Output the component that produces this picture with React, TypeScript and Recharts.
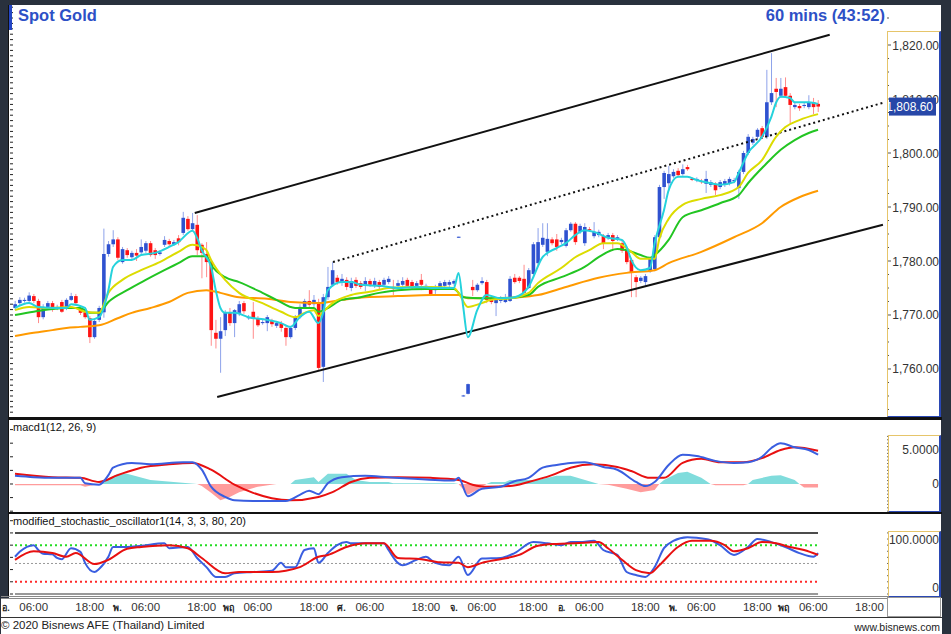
import React from 'react';
import { ComposedChart, Bar, Line, Area, XAxis, YAxis, ReferenceLine } from 'recharts';

// hourly candles, [open, high, low, close]
const candles: [number, number, number, number][] = [
  [1771.3, 1772.6, 1770.9, 1772.0], [1772.2, 1773.3, 1771.8, 1772.8], [1772.6, 1773.2, 1772.3, 1772.8],
  [1772.6, 1774.2, 1772.2, 1773.6], [1773.5, 1773.9, 1772.2, 1772.6], [1772.6, 1773.0, 1768.5, 1769.6],
  [1769.6, 1772.0, 1769.2, 1771.5], [1771.5, 1772.6, 1771.0, 1772.2], [1772.2, 1772.6, 1770.6, 1771.0],
  [1771.2, 1771.9, 1770.9, 1771.5], [1772.4, 1772.8, 1770.4, 1770.6], [1771.3, 1773.1, 1770.9, 1772.8],
  [1772.8, 1774.1, 1772.6, 1773.5], [1773.5, 1773.9, 1771.9, 1772.2], [1771.3, 1771.7, 1770.0, 1770.4],
  [1770.5, 1770.9, 1769.3, 1769.6], [1769.4, 1769.8, 1764.8, 1765.9], [1765.9, 1769.4, 1765.6, 1768.9],
  [1769.1, 1771.7, 1768.7, 1771.3], [1770.5, 1786.0, 1769.5, 1781.3], [1781.3, 1783.7, 1780.8, 1783.1],
  [1783.1, 1785.7, 1782.6, 1784.0], [1784.0, 1784.4, 1780.2, 1780.6], [1779.8, 1782.6, 1779.5, 1782.2],
  [1782.0, 1782.4, 1780.6, 1781.1], [1780.7, 1781.9, 1780.2, 1781.5], [1781.5, 1782.2, 1780.0, 1781.0],
  [1781.6, 1784.0, 1781.3, 1782.6], [1781.9, 1783.7, 1781.5, 1783.3], [1783.3, 1783.7, 1780.8, 1781.1],
  [1782.0, 1782.4, 1780.4, 1781.1], [1781.3, 1782.0, 1781.0, 1781.6], [1783.0, 1784.6, 1782.6, 1783.9],
  [1783.7, 1784.1, 1782.8, 1783.1], [1783.1, 1783.9, 1782.8, 1783.5], [1784.2, 1784.8, 1782.9, 1783.5],
  [1785.2, 1789.1, 1784.8, 1788.0], [1787.8, 1788.3, 1785.6, 1785.9], [1785.9, 1788.9, 1785.6, 1787.0],
  [1786.7, 1788.5, 1781.1, 1782.0], [1783.0, 1783.3, 1776.8, 1781.5], [1781.3, 1783.5, 1777.0, 1779.8],
  [1779.8, 1780.2, 1764.3, 1767.2], [1766.7, 1769.1, 1763.8, 1765.6], [1765.6, 1769.6, 1759.3, 1767.0],
  [1767.2, 1770.9, 1766.1, 1770.4], [1770.4, 1771.3, 1768.0, 1768.5], [1768.5, 1771.1, 1765.9, 1770.9],
  [1770.4, 1772.6, 1769.8, 1772.0], [1772.2, 1772.6, 1770.2, 1770.7], [1769.4, 1770.0, 1769.1, 1769.6],
  [1770.6, 1772.4, 1765.6, 1769.4], [1769.4, 1769.8, 1767.8, 1768.1], [1768.5, 1769.1, 1768.2, 1768.7],
  [1768.5, 1770.0, 1767.0, 1769.6], [1768.9, 1769.3, 1767.8, 1768.3], [1768.0, 1768.9, 1767.6, 1768.5],
  [1768.5, 1768.9, 1766.9, 1767.6], [1767.6, 1768.0, 1764.3, 1765.9], [1765.9, 1768.0, 1765.6, 1767.6],
  [1767.6, 1770.0, 1767.2, 1769.6], [1769.6, 1772.0, 1769.3, 1771.5], [1771.5, 1773.0, 1771.1, 1772.6],
  [1772.6, 1774.6, 1771.5, 1771.9], [1772.0, 1773.7, 1771.5, 1772.8], [1772.4, 1773.0, 1759.8, 1760.2],
  [1760.4, 1773.9, 1757.6, 1773.3], [1773.3, 1778.9, 1772.8, 1775.2], [1775.6, 1779.8, 1775.2, 1778.3],
  [1776.9, 1777.4, 1775.6, 1776.1], [1776.1, 1777.6, 1775.4, 1776.7], [1776.5, 1777.0, 1774.6, 1775.2],
  [1775.0, 1776.9, 1774.4, 1776.3], [1776.5, 1777.0, 1775.0, 1775.4], [1775.9, 1776.3, 1774.8, 1775.2],
  [1775.4, 1777.0, 1774.4, 1776.3], [1776.3, 1776.7, 1775.2, 1775.6], [1775.4, 1776.9, 1775.0, 1776.3],
  [1776.1, 1776.5, 1774.8, 1775.2], [1775.6, 1776.9, 1775.2, 1776.5], [1776.1, 1777.2, 1775.7, 1776.7],
  [1775.2, 1776.5, 1773.7, 1774.8], [1775.4, 1776.5, 1775.0, 1775.9], [1775.6, 1777.0, 1775.2, 1776.3],
  [1776.5, 1776.9, 1775.2, 1775.4], [1776.1, 1776.5, 1774.8, 1775.2], [1775.4, 1776.3, 1775.0, 1775.9],
  [1776.5, 1777.6, 1774.6, 1775.6], [1775.2, 1775.8, 1774.9, 1775.4], [1774.8, 1775.2, 1773.5, 1773.9],
  [1774.6, 1775.6, 1773.9, 1774.8], [1775.2, 1776.3, 1774.8, 1775.9], [1775.4, 1776.5, 1775.0, 1776.1],
  [1775.6, 1776.5, 1775.2, 1776.1], [1775.8, 1776.6, 1775.4, 1776.3], [1784.3, 1784.5, 1784.3, 1784.5],
  [1755.0, 1755.2, 1754.9, 1755.1], [1755.4, 1757.3, 1755.3, 1757.2], [1775.2, 1776.5, 1773.5, 1774.6],
  [1774.6, 1775.9, 1774.3, 1775.6], [1775.9, 1777.0, 1775.6, 1776.3], [1776.1, 1776.5, 1772.2, 1772.8],
  [1773.0, 1773.5, 1772.0, 1772.4], [1772.2, 1773.3, 1769.8, 1772.8], [1772.6, 1773.5, 1772.2, 1773.0],
  [1772.4, 1773.9, 1772.2, 1773.3], [1772.6, 1777.2, 1772.4, 1776.7], [1776.9, 1777.6, 1775.8, 1776.1],
  [1776.9, 1777.2, 1775.9, 1776.3], [1776.7, 1779.3, 1773.9, 1774.1], [1775.0, 1778.7, 1774.8, 1778.3],
  [1777.6, 1783.5, 1777.2, 1783.1], [1779.6, 1786.1, 1779.3, 1783.5], [1783.0, 1787.0, 1782.6, 1784.3],
  [1781.7, 1787.0, 1780.9, 1784.1], [1784.0, 1784.4, 1782.9, 1783.3], [1784.0, 1785.0, 1781.9, 1782.6],
  [1783.5, 1784.3, 1783.1, 1783.9], [1782.8, 1786.1, 1782.5, 1785.7], [1785.7, 1787.2, 1785.4, 1786.9],
  [1786.9, 1787.2, 1783.0, 1783.5], [1785.4, 1786.9, 1785.0, 1786.5], [1783.3, 1787.0, 1782.8, 1786.3],
  [1785.9, 1786.3, 1785.4, 1785.7], [1784.6, 1787.2, 1784.2, 1785.4], [1784.8, 1785.8, 1784.4, 1785.4],
  [1784.6, 1785.0, 1782.2, 1783.3], [1784.3, 1785.2, 1783.9, 1784.8], [1784.8, 1785.2, 1782.2, 1783.7],
  [1784.1, 1784.8, 1783.7, 1784.4], [1783.3, 1783.9, 1781.5, 1781.9], [1782.2, 1782.6, 1779.4, 1779.8],
  [1780.2, 1780.6, 1773.3, 1777.8], [1777.0, 1777.4, 1773.3, 1776.1], [1776.3, 1777.2, 1775.9, 1776.9],
  [1776.1, 1777.6, 1775.4, 1777.2], [1778.1, 1780.7, 1777.8, 1780.4], [1778.5, 1784.8, 1778.1, 1784.4],
  [1784.4, 1794.1, 1784.1, 1793.7], [1793.7, 1796.7, 1791.5, 1796.3], [1794.4, 1797.6, 1793.0, 1796.1],
  [1795.7, 1797.0, 1795.4, 1796.5], [1796.7, 1797.2, 1795.6, 1795.9], [1796.1, 1797.9, 1795.8, 1797.0],
  [1797.4, 1797.8, 1796.7, 1797.0], [1795.2, 1795.5, 1794.8, 1795.0], [1795.0, 1795.5, 1794.6, 1795.2],
  [1794.8, 1795.2, 1794.3, 1794.6], [1794.3, 1796.7, 1792.6, 1795.2], [1794.1, 1795.0, 1793.7, 1794.6],
  [1794.3, 1794.6, 1792.2, 1793.1], [1793.7, 1795.0, 1793.3, 1794.6], [1794.1, 1795.2, 1793.7, 1794.8],
  [1794.4, 1795.6, 1794.0, 1795.2], [1794.8, 1795.4, 1794.4, 1795.0], [1793.5, 1796.9, 1791.5, 1796.5],
  [1796.5, 1800.4, 1796.1, 1800.0], [1800.0, 1803.5, 1799.6, 1803.0], [1801.9, 1803.0, 1801.5, 1802.6],
  [1803.0, 1804.6, 1802.6, 1804.3], [1804.6, 1805.0, 1802.6, 1803.0], [1803.0, 1815.4, 1802.6, 1809.4],
  [1809.4, 1818.5, 1808.9, 1811.1], [1811.9, 1813.9, 1808.5, 1811.3], [1810.6, 1813.9, 1810.2, 1811.9],
  [1812.2, 1814.0, 1810.2, 1810.6], [1810.6, 1811.1, 1805.2, 1808.9], [1808.5, 1809.4, 1808.1, 1808.9],
  [1808.7, 1809.1, 1807.8, 1808.3], [1808.7, 1809.3, 1808.3, 1808.9], [1808.5, 1810.7, 1808.1, 1809.4],
  [1809.4, 1810.2, 1807.2, 1808.5], [1809.1, 1809.8, 1807.6, 1808.6],
];
const lastPrice = 1808.6;

// moving averages, [bar index, price]
const maCyan: [number, number][] = [[0,1771.3],[3,1772.2],[5,1771.5],[9,1771.3],[11,1771.3],[12,1772.0],[15,1771.3],[16,1769.1],[18,1769.6],[20,1774.6],[21,1778.9],[23,1780.2],[25,1780.2],[27,1781.1],[30,1781.5],[33,1782.6],[35,1783.5],[38,1785.6],[39,1784.3],[40,1782.0],[42,1778.9],[43,1774.6],[44,1771.3],[45,1770.4],[47,1770.4],[50,1769.6],[54,1769.1],[57,1768.5],[59,1767.8],[61,1769.6],[63,1770.6],[65,1768.5],[66,1770.4],[67,1774.6],[70,1776.1],[72,1776.1],[74,1775.6],[78,1775.4],[82,1775.0],[86,1775.2],[90,1775.0],[94,1775.0],[95,1777.8],[96,1771.5],[97,1765.9],[99,1770.9],[101,1773.7],[104,1773.1],[107,1773.3],[110,1775.2],[111,1777.0],[113,1780.7],[116,1782.4],[118,1783.3],[120,1784.8],[122,1785.7],[124,1785.4],[127,1784.3],[130,1783.9],[131,1782.6],[132,1780.2],[134,1778.3],[136,1778.7],[137,1783.3],[139,1789.4],[140,1793.1],[142,1795.6],[144,1795.6],[146,1795.0],[149,1794.4],[151,1794.1],[154,1794.6],[155,1796.3],[157,1800.0],[160,1803.0],[162,1806.7],[163,1809.3],[164,1810.4],[166,1810.2],[167,1809.4],[170,1809.4],[172,1809.1]];
const maYellow: [number, number][] = [[0,1770.9],[3,1771.5],[7,1771.3],[12,1771.5],[15,1770.6],[18,1770.4],[20,1774.1],[23,1776.5],[27,1778.3],[31,1779.8],[35,1781.7],[38,1783.0],[40,1782.6],[41,1782.0],[42,1780.2],[45,1776.5],[48,1774.1],[53,1772.2],[57,1770.6],[60,1769.6],[62,1770.4],[64,1770.9],[65,1769.8],[66,1770.6],[68,1772.2],[72,1773.7],[76,1774.3],[80,1775.0],[85,1775.2],[89,1775.2],[94,1775.0],[95,1774.1],[97,1771.5],[100,1772.2],[102,1772.8],[106,1773.1],[110,1774.1],[112,1775.9],[117,1778.7],[120,1780.7],[123,1782.0],[126,1783.3],[129,1783.3],[132,1781.7],[134,1780.4],[137,1780.4],[138,1784.1],[140,1787.8],[143,1790.4],[147,1791.5],[151,1792.2],[155,1793.7],[157,1796.3],[160,1798.7],[163,1803.0],[165,1804.8],[168,1806.1],[172,1807.2]];
const maGreen: [number, number][] = [[0,1770.0],[4,1770.6],[11,1771.3],[14,1771.3],[16,1770.4],[18,1770.4],[20,1772.4],[24,1774.6],[28,1776.5],[32,1778.3],[35,1779.6],[38,1780.9],[41,1780.9],[42,1779.3],[45,1777.0],[48,1776.1],[53,1774.1],[56,1772.8],[60,1771.3],[64,1771.3],[65,1770.6],[67,1771.3],[70,1772.8],[74,1773.3],[78,1774.1],[82,1774.6],[88,1774.8],[94,1774.8],[96,1773.3],[100,1773.1],[105,1773.1],[110,1773.7],[112,1775.2],[117,1777.0],[122,1778.9],[125,1780.7],[129,1782.2],[131,1782.0],[134,1781.1],[136,1780.6],[137,1781.1],[140,1783.9],[143,1788.1],[147,1789.4],[151,1790.7],[155,1792.2],[157,1794.4],[161,1798.1],[164,1800.6],[167,1802.4],[170,1803.7],[172,1804.3]];
const maOrange: [number, number][] = [[0,1766.1],[4,1766.7],[8,1767.2],[11,1767.6],[14,1767.8],[18,1768.1],[22,1769.4],[25,1770.4],[29,1771.3],[33,1772.4],[37,1774.1],[41,1774.6],[44,1774.1],[48,1773.3],[54,1773.0],[59,1772.4],[65,1772.2],[70,1772.8],[75,1773.3],[82,1773.5],[89,1773.7],[95,1773.7],[97,1773.1],[102,1773.1],[108,1773.3],[112,1773.7],[118,1775.2],[125,1776.9],[131,1777.8],[137,1778.3],[140,1779.6],[147,1781.7],[154,1784.4],[160,1787.0],[164,1790.0],[168,1791.8],[172,1793.0]];

// hand drawn channel, endpoints in [bar index, price]
const channel = [
  { from: [38.5, 1788.9], to: [174.5, 1821.9], dotted: false },
  { from: [68.1, 1779.8], to: [185.9, 1809.3], dotted: true },
  { from: [43.3, 1754.8], to: [185.9, 1786.7], dotted: false },
];

// macd1(12, 26, 9)
const macdLine: [number, number][] = [[0,1.2],[4,1.0],[8,0.9],[14,0.9],[15,0.1],[18,-0.1],[20,1.3],[21,2.4],[25,3.1],[29,2.9],[36,3.2],[38,3.2],[40,2.1],[42,-0.4],[45,-1.9],[47,-2.4],[51,-2.5],[58,-2.5],[61,-1.6],[63,-1.0],[65,-1.5],[67,0.1],[70,1.0],[75,1.2],[80,1.0],[90,0.6],[94,0.5],[95,0.9],[97,-1.8],[100,-0.7],[104,-0.4],[107,0.4],[110,0.9],[113,2.4],[116,2.8],[119,3.1],[122,3.2],[126,2.5],[129,2.1],[133,0.3],[135,-0.3],[137,0.3],[140,2.8],[143,4.3],[146,4.1],[150,3.4],[154,3.1],[157,3.2],[160,4.0],[162,5.3],[164,6.0],[167,5.4],[170,5.0],[172,4.3]];
const macdSignal: [number, number][] = [[0,1.5],[8,1.0],[14,0.9],[18,0.3],[22,1.3],[27,2.4],[33,2.9],[38,3.1],[42,2.1],[47,-0.1],[51,-1.3],[55,-2.1],[59,-2.4],[65,-1.9],[68,-1.2],[72,0.3],[76,0.9],[82,1.0],[89,0.9],[95,0.6],[98,-0.1],[101,-0.4],[106,-0.3],[110,0.3],[115,1.3],[119,2.4],[124,2.9],[129,2.5],[132,1.9],[136,0.9],[139,0.9],[143,3.1],[147,3.7],[151,3.2],[156,3.2],[160,3.8],[164,5.0],[167,5.4],[172,4.9]];
const macdHist: [number, number][] = [[0,-0.2],[14,-0.2],[15,-0.4],[18,0],[22,1.5],[24,1.5],[29,0.6],[34,0.3],[39,0],[40,-0.3],[42,-1.3],[44,-2.4],[46,-1.9],[48,-1.2],[52,-0.4],[56,0],[59,0],[60,0.6],[64,1.0],[65,0.3],[67,1.5],[69,1.5],[71,1.5],[73,0.6],[76,0.3],[80,0.3],[81,0.1],[94,0.1],[95,0],[97,-1.6],[99,-0.9],[101,0],[102,0.3],[105,0.3],[106,0.6],[112,0.6],[116,1.2],[119,1.2],[125,0],[127,-0.1],[131,-0.7],[134,-1.2],[137,-0.9],[138,0],[139,0.6],[142,1.6],[144,1.8],[147,0.9],[149,0],[150,-0.2],[156,-0.2],[157,0],[158,0.6],[162,1.2],[164,1.3],[167,0.6],[168,0],[169,-0.5],[172,-0.5]];

// modified_stochastic_oscillator1(14, 3, 3, 80, 20)
const stochK: [number, number][] = [[0,61],[1,69],[4,80],[5,72],[6,66],[8,65],[9,59],[10,57],[12,75],[14,69],[15,51],[17,36],[18,41],[20,61],[21,77],[24,77],[27,79],[32,83],[33,75],[37,77],[39,59],[41,44],[43,28],[45,28],[47,34],[51,36],[55,38],[57,51],[58,44],[60,44],[62,72],[64,75],[65,51],[67,67],[69,80],[71,85],[72,83],[79,83],[80,72],[82,51],[83,47],[86,56],[88,61],[90,51],[93,47],[95,61],[97,31],[100,58],[104,59],[107,67],[111,85],[114,83],[117,80],[119,85],[121,85],[124,87],[126,72],[129,64],[131,36],[133,31],[135,28],[137,44],[139,75],[141,87],[144,93],[146,92],[149,88],[151,80],[154,64],[157,77],[159,90],[162,85],[165,77],[168,67],[171,61],[172,67]];
const stochD: [number, number][] = [[0,56],[4,70],[8,67],[11,61],[13,67],[17,49],[20,56],[24,74],[27,77],[33,80],[37,75],[40,59],[45,34],[48,36],[55,36],[61,44],[65,61],[67,64],[71,77],[75,83],[79,83],[82,59],[87,57],[91,52],[95,51],[97,44],[100,51],[104,57],[108,64],[112,79],[116,82],[120,83],[125,85],[127,75],[130,56],[133,39],[136,34],[138,47],[142,77],[145,87],[149,87],[152,80],[154,70],[157,75],[160,85],[163,83],[166,77],[169,72],[172,64]];
const stochLevels = [
  { v: 100, color: '#111', dash: undefined, w: 1.5 },
  { v: 80, color: '#22dd22', dash: '2 3', w: 2 },
  { v: 50, color: '#999', dash: '2 2', w: 1 },
  { v: 20, color: '#ff2a2a', dash: '2 3', w: 2 },
  { v: 0, color: '#999', dash: undefined, w: 2 },
];

// time axis
const timeTicks = [4, 16, 28, 40, 52, 64, 76, 88, 100, 111, 123, 135, 147, 159, 171, 183];
const timeLabels = ['06:00', '18:00', '06:00', '18:00', '06:00', '18:00', '06:00', '18:00', '06:00', '18:00', '06:00', '18:00', '06:00', '18:00', '06:00', '18:00'];
const dayLabels = ['อ.', '', 'พ.', '', 'พฤ', '', 'ศ.', '', 'จ.', '', 'อ.', '', 'พ.', '', 'พฤ', ''];

const priceLabels = [1760, 1770, 1780, 1790, 1800, 1810, 1820];

const X_DOMAIN: [number, number] = [-0.43, 186.77];
const PRICE_DOMAIN: [number, number] = [1751.11, 1827.41];
const MACD_DOMAIN: [number, number] = [-4.12, 9.41];
const STOCH_DOMAIN: [number, number] = [-4.9, 131];

const range = (a: number, b: number, s: number) => {
  const out: number[] = [];
  for (let v = a; v <= b + 1e-9; v += s) out.push(Math.round(v * 100) / 100);
  return out;
};

const rows: any[] = candles.map(([o, h, l, c], i) => ({ i, o, h, l, c }));
const put = (key: string, pts: [number, number][]) => pts.forEach(([i, v]) => { rows[i][key] = v; });
put('cyan', maCyan);
put('yellow', maYellow);
put('green', maGreen);
put('orange', maOrange);
put('macd', macdLine);
put('signal', macdSignal);
put('histUp', macdHist.map(([i, v]) => [i, Math.max(v, 0)] as [number, number]));
put('histDn', macdHist.map(([i, v]) => [i, Math.min(v, 0)] as [number, number]));
put('k', stochK);
put('d', stochD);

const renderCandle = (p: any) => {
  const { x, y, width, height, payload } = p;
  if (x == null || y == null) return <g />;
  const { o, h, l, c } = payload;
  const cx = x + width / 2;
  const up = c >= o;
  const k = h > l ? height / (h - l) : 0;
  const top = y + (h - Math.max(o, c)) * k;
  const bot = y + (h - Math.min(o, c)) * k;
  return (
    <g>
      <line x1={cx} x2={cx} y1={y} y2={y + height} stroke={up ? '#8ea3ea' : '#ff8c8c'} strokeWidth={1} />
      <rect x={cx - 1.8} y={top} width={3.6} height={Math.max(1, bot - top)} fill={up ? '#2f52d0' : '#ff1414'} />
    </g>
  );
};

const noTick = () => <g />;

const fmtPrice = (v: number) => v.toLocaleString('en-US', { minimumFractionDigits: 2, maximumFractionDigits: 2 });

const renderPriceTick = (p: any) => {
  const v = p.payload.value;
  if (v === lastPrice) {
    return (
      <g>
        <rect x={p.x + 2} y={p.y - 9} width={47} height={18} fill="#2747a8" />
        <text x={p.x + 46} y={p.y + 4.5} textAnchor="end" fontSize={12} fill="#fff">{fmtPrice(v)}</text>
      </g>
    );
  }
  const major = priceLabels.includes(v);
  return (
    <g>
      <line x1={p.x} x2={p.x + (major ? 4 : 2)} y1={p.y} y2={p.y} stroke="#555" />
      {major && <text x={p.x + 52} y={p.y + 4.5} textAnchor="end" fontSize={12} fill="#333">{fmtPrice(v)}</text>}
    </g>
  );
};

const renderMacdTick = (p: any) => {
  const v = p.payload.value;
  return (
    <g>
      <line x1={p.x} x2={p.x + 2} y1={p.y} y2={p.y} stroke="#666" />
      {v === 5 && <text x={p.x + 52} y={p.y + 4.5} textAnchor="end" fontSize={12} fill="#333">5.0000</text>}
      {v === 0 && <text x={p.x + 52} y={p.y + 4.5} textAnchor="end" fontSize={12} fill="#333">0</text>}
    </g>
  );
};

const renderStochTick = (p: any) => {
  const v = p.payload.value;
  return (
    <g>
      <line x1={p.x} x2={p.x + 2} y1={p.y} y2={p.y} stroke="#666" />
      {v === 100 && <text x={p.x + 52} y={p.y + 11} textAnchor="end" fontSize={12} fill="#333">100.0000</text>}
      {v === 0 && <text x={p.x + 52} y={p.y - 2} textAnchor="end" fontSize={12} fill="#333">0</text>}
    </g>
  );
};

const renderTimeTick = (p: any) => {
  const idx = timeTicks.indexOf(p.payload.value);
  const day = dayLabels[idx];
  return (
    <g>
      {day && <text x={p.x - 24} y={p.y + 14} textAnchor="end" fontSize={9} fontWeight={700} fill="#222">{day}</text>}
      <text x={p.x} y={p.y + 14} textAnchor="middle" fontSize={11.5} fill="#333">{timeLabels[idx]}</text>
    </g>
  );
};

const margin = { top: 0, right: 0, bottom: 0, left: 9 };

const box = (left: number, top: number, width: number, height: number, extra: React.CSSProperties = {}) => (
  <div style={{ position: 'absolute', left, top, width, height, boxSizing: 'border-box', ...extra }} />
);

export default function App() {
  return (
    <div style={{ position: 'relative', width: 951, height: 634, background: '#29313d', overflow: 'hidden', fontFamily: '"Liberation Sans", Arial, sans-serif' }}>
      <style>{'body{margin:0}'}</style>
      {box(9, 5, 932, 613, { background: '#fff' })}
      {box(1, 598, 941, 36, { background: '#fff' })}

      {/* price panel */}
      <div style={{ position: 'absolute', left: 0, top: 5 }}>
        <ComposedChart width={941} height={412} data={rows} margin={margin}>
          <XAxis type="number" dataKey="i" domain={X_DOMAIN} hide allowDataOverflow />
          <YAxis yAxisId="l" orientation="left" width={4} domain={PRICE_DOMAIN} ticks={range(1752, 1827, 1)} interval={0} tickSize={3} tick={noTick} axisLine={false} tickLine={{ stroke: '#222' }} allowDataOverflow />
          <YAxis yAxisId="r" orientation="right" width={54} domain={PRICE_DOMAIN} ticks={[...range(1752.5, 1825, 2.5), lastPrice]} interval={0} tickSize={0} tickMargin={0} tick={renderPriceTick} axisLine={false} tickLine={false} allowDataOverflow />
          {channel.map((t, n) => (
            <ReferenceLine key={n} yAxisId="r" segment={[{ x: t.from[0], y: t.from[1] }, { x: t.to[0], y: t.to[1] }]} stroke="#111" strokeWidth={2} strokeDasharray={t.dotted ? '2 3' : undefined} ifOverflow="visible" />
          ))}
          <Bar yAxisId="r" dataKey={(d: any) => [d.l, d.h]} shape={renderCandle} barSize={3} isAnimationActive={false} />
          <Line yAxisId="r" dataKey="orange" type="monotone" stroke="#ff9a00" strokeWidth={2} dot={false} activeDot={false} connectNulls isAnimationActive={false} />
          <Line yAxisId="r" dataKey="green" type="monotone" stroke="#22c522" strokeWidth={2} dot={false} activeDot={false} connectNulls isAnimationActive={false} />
          <Line yAxisId="r" dataKey="yellow" type="monotone" stroke="#dcdc00" strokeWidth={2} dot={false} activeDot={false} connectNulls isAnimationActive={false} />
          <Line yAxisId="r" dataKey="cyan" type="monotone" stroke="#25d2dc" strokeWidth={2} dot={false} activeDot={false} connectNulls isAnimationActive={false} />
        </ComposedChart>
      </div>

      {/* macd panel */}
      <div style={{ position: 'absolute', left: 0, top: 420 }}>
        <ComposedChart width={941} height={92} data={rows} margin={margin}>
          <XAxis type="number" dataKey="i" domain={X_DOMAIN} hide allowDataOverflow />
          <YAxis yAxisId="l" orientation="left" width={4} domain={MACD_DOMAIN} ticks={range(-4, 9, 2)} interval={0} tickSize={3} tick={noTick} axisLine={false} tickLine={{ stroke: '#222' }} allowDataOverflow />
          <YAxis yAxisId="r" orientation="right" width={54} domain={MACD_DOMAIN} ticks={range(-4, 7, 0.5)} interval={0} tickSize={0} tickMargin={0} tick={renderMacdTick} axisLine={false} tickLine={false} allowDataOverflow />
          <Area yAxisId="r" dataKey="histUp" type="linear" baseValue={0} stroke="none" fill="#80dcdc" fillOpacity={1} connectNulls dot={false} activeDot={false} isAnimationActive={false} />
          <Area yAxisId="r" dataKey="histDn" type="linear" baseValue={0} stroke="none" fill="#ff9c9c" fillOpacity={1} connectNulls dot={false} activeDot={false} isAnimationActive={false} />
          <Line yAxisId="r" dataKey="signal" type="monotone" stroke="#e81010" strokeWidth={2} dot={false} activeDot={false} connectNulls isAnimationActive={false} />
          <Line yAxisId="r" dataKey="macd" type="monotone" stroke="#3a5ee0" strokeWidth={2} dot={false} activeDot={false} connectNulls isAnimationActive={false} />
        </ComposedChart>
      </div>

      {/* stochastic panel + time axis */}
      <div style={{ position: 'absolute', left: 0, top: 514 }}>
        <ComposedChart width={941} height={104} data={rows} margin={margin}>
          <XAxis type="number" dataKey="i" domain={X_DOMAIN} ticks={timeTicks} interval={0} tick={renderTimeTick} tickSize={0} tickMargin={0} axisLine={false} tickLine={false} height={21} allowDataOverflow />
          <YAxis yAxisId="l" orientation="left" width={4} domain={STOCH_DOMAIN} ticks={range(0, 120, 20)} interval={0} tickSize={3} tick={noTick} axisLine={false} tickLine={{ stroke: '#222' }} allowDataOverflow />
          <YAxis yAxisId="r" orientation="right" width={54} domain={STOCH_DOMAIN} ticks={range(0, 100, 10)} interval={0} tickSize={0} tickMargin={0} tick={renderStochTick} axisLine={false} tickLine={false} allowDataOverflow />
          {stochLevels.map((s) => (
            <ReferenceLine key={s.v} yAxisId="r" segment={[{ x: 0, y: s.v }, { x: 172, y: s.v }]} stroke={s.color} strokeWidth={s.w} strokeDasharray={s.dash} ifOverflow="visible" />
          ))}
          <Line yAxisId="r" dataKey="k" type="monotone" stroke="#3a5ee0" strokeWidth={2} dot={false} activeDot={false} connectNulls isAnimationActive={false} />
          <Line yAxisId="r" dataKey="d" type="monotone" stroke="#e81010" strokeWidth={2} dot={false} activeDot={false} connectNulls isAnimationActive={false} />
        </ComposedChart>
      </div>

      {/* frames and separators */}
      {box(8, 5, 1, 592, { background: '#111' })}
      {box(8, 417, 934, 3, { background: '#111' })}
      {box(8, 512, 934, 2, { background: '#111' })}
      {box(1, 596, 887, 3, { borderTop: '1px solid #888', borderBottom: '1px solid #888' })}
      {box(1, 617, 941, 1, { background: '#333' })}
      {box(887, 31, 54, 386, { borderLeft: '1px solid #e6c56a', borderTop: '1px solid #e6c56a', borderRight: '2px solid #2a48b4', borderBottom: '1px solid #2a48b4' })}
      {box(888, 435, 53, 77, { borderLeft: '1px solid #e6c56a', borderTop: '1px solid #e6c56a', borderRight: '2px solid #2a48b4', borderBottom: '1px solid #2a48b4' })}
      {box(888, 531, 53, 66, { borderLeft: '1px solid #e6c56a', borderTop: '1px solid #e6c56a', borderRight: '2px solid #2a48b4', borderBottom: '1px solid #2a48b4' })}
      {box(887, 597, 54, 20, { border: '1px solid #999' })}

      {/* titles */}
      {box(9, 5, 3, 25, { background: '#2446c4' })}
      <div style={{ position: 'absolute', left: 18, top: 6, fontSize: 16.5, fontWeight: 700, color: '#2d50c6' }}>Spot Gold</div>
      <div style={{ position: 'absolute', right: 951 - 885, top: 6, fontSize: 16.5, fontWeight: 700, color: '#2d50c6' }}>60 mins (43:52)</div>
      <div style={{ position: 'absolute', left: 13, top: 421, fontSize: 11, color: '#111' }}>macd1(12, 26, 9)</div>
      <div style={{ position: 'absolute', left: 13, top: 515, fontSize: 11, color: '#111' }}>modified_stochastic_oscillator1(14, 3, 3, 80, 20)</div>
      <div style={{ position: 'absolute', left: 1, top: 619, fontSize: 11.5, color: '#222' }}>© 2020 Bisnews AFE (Thailand) Limited</div>
      <div style={{ position: 'absolute', right: 951 - 940, top: 621, fontSize: 10.5, color: '#222' }}>www.bisnews.com</div>
    </div>
  );
}
